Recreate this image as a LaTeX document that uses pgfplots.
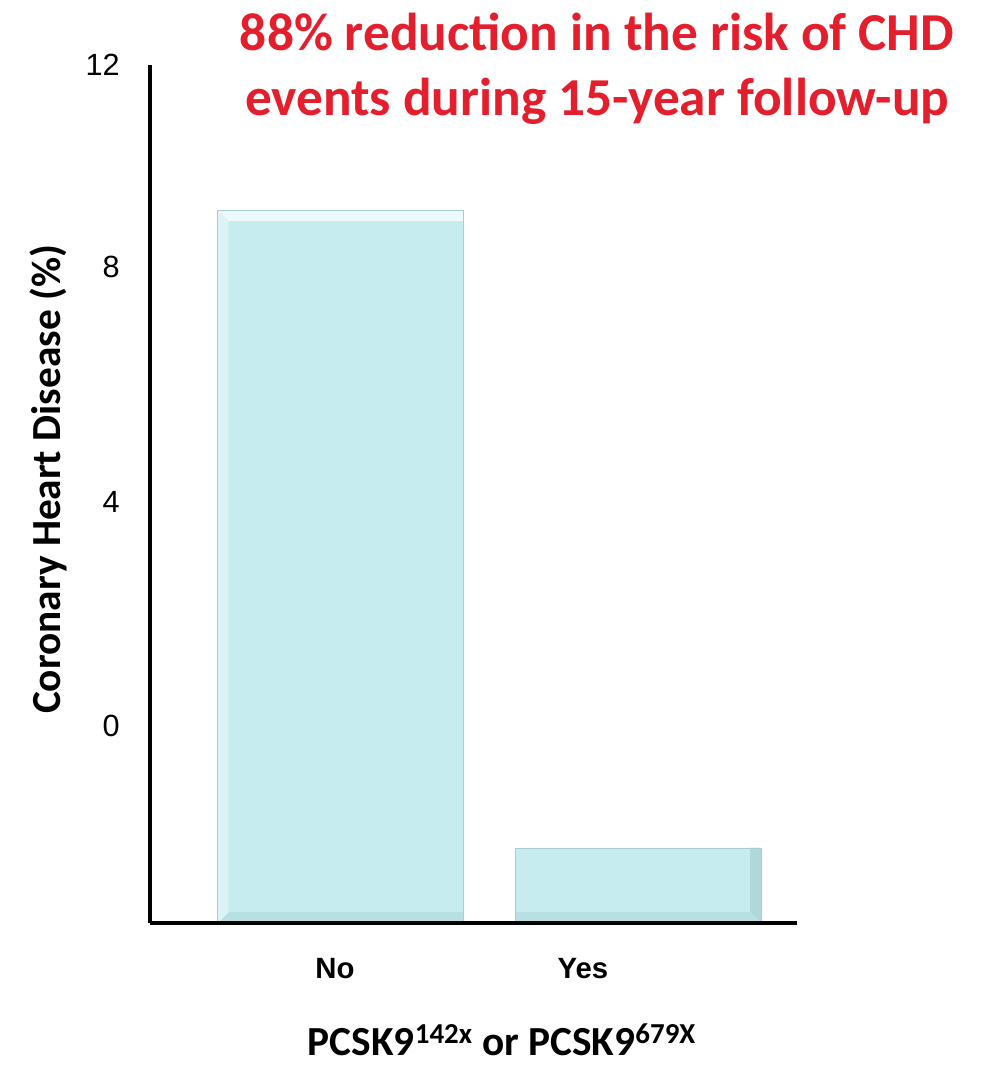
\documentclass[border=0pt]{standalone}
\usepackage{fontspec}
\setmainfont{Liberation Sans}
\newfontfamily\calibri{Carlito}
\usepackage{pgfplots}
\pgfplotsset{compat=1.18}

\definecolor{barfill}{HTML}{C6ECEF}
\definecolor{barhi}{HTML}{EDFAFB}
\definecolor{barlo}{HTML}{A6CFD3}
\definecolor{titlered}{HTML}{E31F2E}

% bevelled bar face: light top and left facets, darker right and bottom facets
\tikzset{bevel/.style={path picture={
    \fill[barhi, path picture={}] (path picture bounding box.north west)
      -- ([xshift=8pt,yshift=-8pt]path picture bounding box.north west)
      -- ([xshift=-8pt,yshift=-8pt]path picture bounding box.north east)
      -- (path picture bounding box.north east) -- cycle;
    \fill[barlo!70!barfill, path picture={}] (path picture bounding box.north east)
      -- ([xshift=-8pt,yshift=-8pt]path picture bounding box.north east)
      -- ([xshift=-8pt,yshift=8pt]path picture bounding box.south east)
      -- (path picture bounding box.south east) -- cycle;
    \fill[barlo!45!barfill, path picture={}] (path picture bounding box.south west)
      -- ([xshift=8pt,yshift=8pt]path picture bounding box.south west)
      -- ([xshift=-8pt,yshift=8pt]path picture bounding box.south east)
      -- (path picture bounding box.south east) -- cycle;
    \fill[barhi!50!barfill, path picture={}] (path picture bounding box.north west)
      -- ([xshift=8pt,yshift=-8pt]path picture bounding box.north west)
      -- ([xshift=8pt,yshift=8pt]path picture bounding box.south west)
      -- (path picture bounding box.south west) -- cycle;
  }}}

\begin{document}
\begin{tikzpicture}
\useasboundingbox (0pt,0pt) rectangle (742.5pt,800.25pt);
\begin{axis}[
  at={(112.5pt,108pt)}, anchor=south west,
  scale only axis,
  width=485.25pt, height=643.5pt,
  xmin=150, xmax=797,
  ymin=0, ymax=12,
  axis lines=left,
  axis line style={-, line width=2.3pt, black},
  axis on top,
  xtick={335,583},
  xticklabels={No,Yes},
  ytick={2.755,5.895,9.18,12},
  yticklabels={0,4,8,12},
  major tick length=0pt,
  xticklabel style={anchor=base, yshift=-41.5pt, inner sep=0pt,
    font=\fontsize{22}{26}\selectfont\bfseries},
  yticklabel style={anchor=east, xshift=-22.5pt, inner sep=0pt,
    font=\fontsize{23}{27}\selectfont},
  xlabel={PCSK9\textsuperscript{142x} or PCSK9\textsuperscript{679X}},
  xlabel style={at={(axis description cs:0.544,-0.154)}, anchor=base,
    inner sep=0pt, font=\fontsize{31}{36}\selectfont\calibri\bfseries},
  ylabel={Coronary Heart Disease (\%)},
  ylabel style={at={(axis description cs:-0.1577,0.517)}, anchor=center,
    rotate=0, inner sep=0pt, font=\fontsize{31}{36}\selectfont\calibri\bfseries},
  title={88\% reduction in the risk of CHD\\events during 15-year follow-up},
  title style={at={(axis description cs:0.691,1.052)}, anchor=north,
    align=center, inner sep=0pt, text=titlered,
    font=\fontsize{40}{49}\selectfont\calibri\bfseries},
  clip=false,
]
\addplot[ybar, bar width=246, fill=barfill, draw=barlo, line width=0.4pt, bevel]
  coordinates {(340.5,9.97) (638,1.05)};
\end{axis}
\end{tikzpicture}
\end{document}
